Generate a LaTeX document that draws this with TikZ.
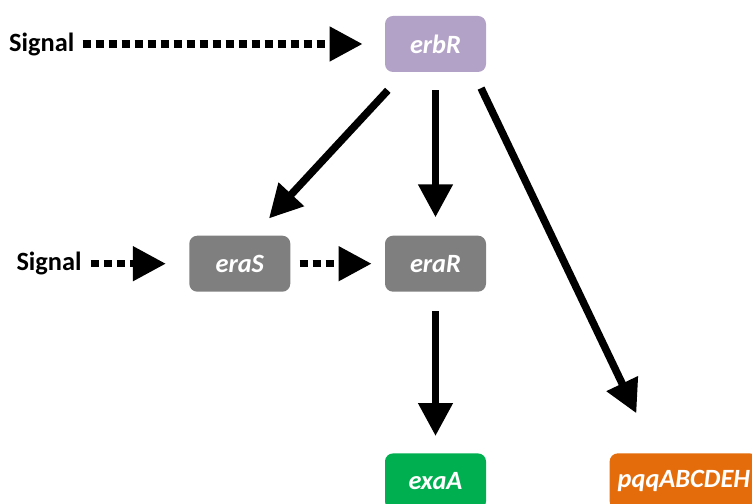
\documentclass[tikz,border=0pt]{standalone}
\usepackage{fontspec}
\setsansfont{Carlito}
\usepackage{tikz}
\usetikzlibrary{arrows.meta, positioning}

\definecolor{erbcol}{HTML}{B3A2C7}
\definecolor{eracol}{HTML}{7F7F7F}
\definecolor{exacol}{HTML}{00B050}
\definecolor{pqqcol}{HTML}{E46C0A}

\begin{document}
\begin{tikzpicture}[
    box/.style={rectangle, rounded corners=0.16cm, minimum width=2.02cm, minimum height=1.12cm, align=center, text=white, font=\sffamily\bfseries\itshape\fontsize{15}{18}\selectfont},
    sig/.style={inner sep=0pt, font=\sffamily\bfseries\fontsize{15}{18}\selectfont},
    arrow/.style={-{Triangle[length=0.66cm, width=0.66cm]}, line width=0.15cm},
    dotarrow/.style={arrow, dash pattern=on 0.16cm off 0.1cm}
]
\useasboundingbox (0,0) rectangle (15.04,10.08);

\node[box, fill=erbcol] (erbR) at (8.71,9.2) {erbR};
\node[box, fill=eracol, below=3.26cm of erbR] (eraR) {eraR};
\node[box, fill=eracol, left=1.88cm of eraR] (eraS) {eraS};
\node[box, fill=exacol, below=3.22cm of eraR] (exaA) {exaA};
\node[box, fill=pqqcol, minimum width=0pt, inner xsep=0.16cm, right=2.46cm of exaA] (pqq) {pqqABCDEH};

\node[sig, left=6.2cm of erbR] (sigtop) {Signal};
\node[sig, left=2.14cm of eraS] (sigera) {Signal};

% signal inputs
\draw[dotarrow, shorten <=0.16cm, shorten >=0.44cm] (sigtop) -- (erbR);
\draw[dotarrow, shorten <=0.18cm, shorten >=0.46cm] (sigera) -- (eraS);
\draw[dotarrow, shorten <=0.18cm, shorten >=0.26cm] (eraS) -- (eraR);

% regulation
\draw[arrow, shorten <=0.49cm, shorten >=0.46cm] ([xshift=-0.62cm]erbR.south) -- ([xshift=0.27cm]eraS.north);
\draw[arrow, shorten <=0.36cm, shorten >=0.36cm] (erbR) -- (eraR);
\draw[arrow, shorten <=0.35cm, shorten >=0.88cm] ([xshift=0.76cm]erbR.south) -- ([xshift=0.92cm]pqq.north west);
\draw[arrow, shorten <=0.38cm, shorten >=0.34cm] (eraR) -- (exaA);

\end{tikzpicture}
\end{document}
